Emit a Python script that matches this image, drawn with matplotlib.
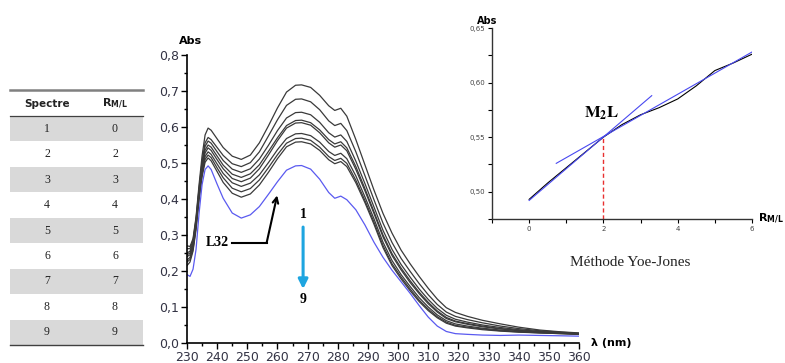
import numpy as np
import matplotlib.pyplot as plt
from matplotlib.patches import Rectangle
from matplotlib.ticker import MultipleLocator, FuncFormatter

# wavelengths (nm)
wl = [230, 231, 232, 233, 234, 235, 236, 237, 238, 240, 242, 245, 248, 251, 254, 257, 260, 263, 266, 268,
      271, 274, 277, 279, 281, 283, 286, 289, 292, 295, 298, 301, 304, 307, 310, 313, 316, 319, 323, 328,
      334, 340, 347, 354, 360]

# absorbance of spectra 1..8 (black) and 9 (blue)
s1 = [0.270, 0.268, 0.290, 0.350, 0.440, 0.520, 0.578, 0.597, 0.591, 0.567, 0.543, 0.519, 0.510, 0.522, 0.556,
      0.603, 0.653, 0.697, 0.716, 0.717, 0.710, 0.688, 0.659, 0.646, 0.652, 0.630, 0.565, 0.495, 0.425, 0.360,
      0.305, 0.258, 0.220, 0.185, 0.152, 0.122, 0.098, 0.085, 0.074, 0.063, 0.053, 0.044, 0.036, 0.031, 0.028]
s2 = [0.262, 0.262, 0.285, 0.345, 0.430, 0.505, 0.556, 0.571, 0.565, 0.543, 0.521, 0.498, 0.490, 0.501, 0.531,
      0.575, 0.620, 0.660, 0.677, 0.678, 0.670, 0.648, 0.617, 0.604, 0.610, 0.590, 0.531, 0.465, 0.398, 0.333,
      0.279, 0.235, 0.199, 0.165, 0.134, 0.107, 0.086, 0.074, 0.065, 0.056, 0.047, 0.040, 0.034, 0.030, 0.027]
s3 = [0.250, 0.255, 0.280, 0.340, 0.425, 0.497, 0.546, 0.561, 0.555, 0.531, 0.507, 0.483, 0.474, 0.484, 0.511,
      0.549, 0.590, 0.625, 0.640, 0.641, 0.634, 0.613, 0.584, 0.572, 0.578, 0.560, 0.505, 0.443, 0.378, 0.313,
      0.260, 0.218, 0.183, 0.150, 0.121, 0.096, 0.077, 0.066, 0.058, 0.050, 0.043, 0.037, 0.032, 0.029, 0.026]
s4 = [0.245, 0.250, 0.275, 0.335, 0.420, 0.490, 0.536, 0.550, 0.544, 0.519, 0.494, 0.469, 0.460, 0.470, 0.495,
      0.532, 0.570, 0.604, 0.618, 0.619, 0.612, 0.592, 0.565, 0.553, 0.559, 0.542, 0.490, 0.429, 0.365, 0.300,
      0.248, 0.208, 0.173, 0.141, 0.113, 0.089, 0.071, 0.061, 0.054, 0.047, 0.040, 0.035, 0.031, 0.028, 0.025]
s5 = [0.240, 0.245, 0.270, 0.330, 0.415, 0.483, 0.528, 0.542, 0.535, 0.509, 0.484, 0.457, 0.448, 0.458, 0.484,
      0.522, 0.562, 0.597, 0.611, 0.612, 0.605, 0.584, 0.556, 0.544, 0.550, 0.534, 0.482, 0.423, 0.360, 0.295,
      0.243, 0.203, 0.168, 0.137, 0.109, 0.086, 0.068, 0.059, 0.052, 0.045, 0.039, 0.034, 0.030, 0.028, 0.025]
s6 = [0.230, 0.238, 0.265, 0.325, 0.408, 0.475, 0.518, 0.531, 0.524, 0.497, 0.471, 0.445, 0.435, 0.444, 0.467,
      0.501, 0.537, 0.568, 0.581, 0.582, 0.576, 0.558, 0.532, 0.521, 0.527, 0.512, 0.464, 0.406, 0.345, 0.280,
      0.229, 0.190, 0.157, 0.126, 0.100, 0.078, 0.062, 0.053, 0.047, 0.041, 0.036, 0.032, 0.029, 0.027, 0.025]
s7 = [0.225, 0.232, 0.260, 0.320, 0.402, 0.468, 0.510, 0.522, 0.515, 0.486, 0.459, 0.430, 0.420, 0.429, 0.453,
      0.487, 0.523, 0.555, 0.568, 0.569, 0.563, 0.544, 0.518, 0.507, 0.513, 0.499, 0.452, 0.396, 0.336, 0.271,
      0.220, 0.183, 0.150, 0.119, 0.094, 0.073, 0.058, 0.049, 0.044, 0.039, 0.034, 0.031, 0.028, 0.026, 0.024]
s8 = [0.215, 0.225, 0.255, 0.315, 0.397, 0.462, 0.502, 0.514, 0.506, 0.476, 0.446, 0.416, 0.405, 0.414, 0.439,
      0.474, 0.512, 0.545, 0.558, 0.559, 0.553, 0.535, 0.509, 0.498, 0.504, 0.490, 0.445, 0.390, 0.330, 0.265,
      0.215, 0.178, 0.145, 0.115, 0.090, 0.070, 0.055, 0.047, 0.042, 0.037, 0.033, 0.030, 0.028, 0.026, 0.024]
s9 = [0.190, 0.185, 0.205, 0.260, 0.360, 0.440, 0.482, 0.492, 0.482, 0.441, 0.402, 0.361, 0.347, 0.356, 0.379,
      0.413, 0.448, 0.480, 0.492, 0.493, 0.483, 0.455, 0.418, 0.402, 0.408, 0.398, 0.370, 0.328, 0.280, 0.238,
      0.202, 0.170, 0.138, 0.104, 0.072, 0.047, 0.032, 0.026, 0.024, 0.022, 0.021, 0.022, 0.021, 0.020, 0.019]

# table
spectre = [1, 2, 3, 4, 5, 6, 7, 8, 9]
r_ml = [0, 2, 3, 4, 5, 6, 7, 8, 9]

# Yoe-Jones inset
r_inset = [0, 0.5, 1, 1.5, 2, 2.5, 3, 3.5, 4, 4.5, 5, 5.5, 6]
abs_inset = [0.493, 0.508, 0.522, 0.536, 0.550, 0.5615, 0.5705, 0.577, 0.585, 0.597, 0.611, 0.618, 0.626]
tan1_r = [0, 3.3]
tan1_a = [0.492, 0.588]
tan2_r = [0.73, 6]
tan2_a = [0.526, 0.628]

W, H = 785, 363
fig = plt.figure(figsize=(W / 100, H / 100), dpi=100)

def fr(x0, y0, x1, y1):
    return [x0 / W, 1 - y1 / H, (x1 - x0) / W, (y1 - y0) / H]

comma = lambda nd: FuncFormatter(lambda v, p: f"{v:.{nd}f}".replace('.', ','))

# ---- table (pixel coordinates) ----
tab = fig.add_axes([0, 0, 1, 1], zorder=0)
tab.set_xlim(0, W)
tab.set_ylim(H, 0)
tab.axis('off')
row_h = (345 - 116) / 9
for i, (sp, r) in enumerate(zip(spectre, r_ml)):
    y0 = 116 + i * row_h
    if i % 2 == 0:
        tab.add_patch(Rectangle((10, y0), 133, row_h, color='#d9d9d9', lw=0))
    tab.text(47, y0 + row_h / 2, str(sp), ha='center', va='center', fontsize=8.5,
             family='Liberation Serif', color='#222222')
    tab.text(115, y0 + row_h / 2, str(r), ha='center', va='center', fontsize=8.5,
             family='Liberation Serif', color='#222222')
tab.plot([10, 143], [90, 90], color='#808080', lw=1.8)
tab.plot([10, 143], [116, 116], color='#404040', lw=0.9)
tab.plot([10, 143], [345, 345], color='#404040', lw=1.0)
tab.text(47, 104, 'Spectre', ha='center', va='center', fontsize=7.5, weight='bold', color='#222222')
tab.text(115, 104, r'$\mathbf{R_{M/L}}$', ha='center', va='center', fontsize=8, color='#222222')

# ---- main spectra ----
ax = fig.add_axes(fr(187, 55, 579, 343))
for s in [s1, s2, s3, s4, s5, s6, s7, s8]:
    ax.plot(wl, s, color='#3a3a3a', lw=0.9)
ax.plot(wl, s9, color='#5a5af0', lw=0.9)
ax.set_xlim(230, 360)
ax.set_ylim(0, 0.8)
ax.xaxis.set_major_locator(MultipleLocator(10))
ax.xaxis.set_minor_locator(MultipleLocator(5))
ax.yaxis.set_major_locator(MultipleLocator(0.1))
ax.yaxis.set_minor_locator(MultipleLocator(0.05))
ax.yaxis.set_major_formatter(comma(1))
for sp in ['top', 'right']:
    ax.spines[sp].set_visible(False)
for sp in ['left', 'bottom']:
    ax.spines[sp].set_linewidth(1.2)
ax.tick_params(which='major', direction='out', length=4, width=1, labelsize=9, colors='black',
               labelcolor='#333344', pad=2)
ax.tick_params(which='minor', direction='out', length=2.5, width=1)
ax.patch.set_alpha(0)
ax.text(0.008, 1.03, 'Abs', transform=ax.transAxes, fontsize=8, weight='bold', ha='center', va='bottom')
ax.text(1.03, 0.0, 'λ (nm)', transform=ax.transAxes, fontsize=8, weight='bold', ha='left', va='center')

# L32 annotation
ax.text(240, 0.278, 'L32', fontsize=10, weight='bold', family='Liberation Serif', ha='center', va='center')
ax.plot([245, 256.4], [0.278, 0.278], color='black', lw=1.5)
ax.annotate('', xy=(259.9, 0.41), xytext=(256.4, 0.278),
            arrowprops=dict(arrowstyle='->', lw=1.5, color='black', shrinkA=0, shrinkB=0))

# 1 -> 9 arrow
ax.text(268.5, 0.356, '1', fontsize=10, weight='bold', family='Liberation Serif', ha='center', va='center')
ax.text(268.5, 0.12, '9', fontsize=10, weight='bold', family='Liberation Serif', ha='center', va='center')
ax.annotate('', xy=(268.5, 0.15), xytext=(268.5, 0.322),
            arrowprops=dict(arrowstyle='-|>', lw=2.2, color='#1ea5e0', mutation_scale=14,
                            shrinkA=0, shrinkB=0))

# ---- Yoe-Jones inset ----
ins = fig.add_axes(fr(492, 28, 752, 219))
ins.plot(r_inset, abs_inset, color='black', lw=0.8)
ins.plot(tan1_r, tan1_a, color='#4848f0', lw=0.8)
ins.plot(tan2_r, tan2_a, color='#4848f0', lw=0.8)
ins.plot([2, 2], [0.475, 0.55], color='#e83030', lw=1.0, ls=(0, (3, 2)))
ins.set_xlim(-1, 6)
ins.set_ylim(0.475, 0.65)
ins.xaxis.set_major_locator(MultipleLocator(2))
ins.xaxis.set_minor_locator(MultipleLocator(1))
ins.yaxis.set_major_locator(MultipleLocator(0.05))
ins.yaxis.set_minor_locator(MultipleLocator(0.025))
ins.yaxis.set_major_formatter(comma(2))
for sp in ['top', 'right']:
    ins.spines[sp].set_visible(False)
for sp in ['left', 'bottom']:
    ins.spines[sp].set_linewidth(1.0)
    ins.spines[sp].set_color('#333333')
ins.tick_params(which='major', direction='out', length=3, width=0.8, labelsize=5, labelcolor='#444444', pad=2)
ins.tick_params(which='minor', direction='out', length=3, width=0.8)
ins.patch.set_alpha(0)
ins.text(-0.02, 1.01, 'Abs', transform=ins.transAxes, fontsize=7, weight='bold', ha='center', va='bottom')
ins.text(1.025, 0.0, r'$\mathbf{R_{M/L}}$', transform=ins.transAxes, fontsize=8, ha='left', va='center')
ins.text(1.94, 0.572, r'$\mathbf{M_2L}$', fontsize=12, math_fontfamily='stix', ha='center', va='center')

fig.text(630 / W, 1 - 263 / H, 'Méthode Yoe-Jones', fontsize=11, family='Liberation Serif',
         ha='center', va='center', color='#222222')

fig.savefig('out.png', dpi=100)
